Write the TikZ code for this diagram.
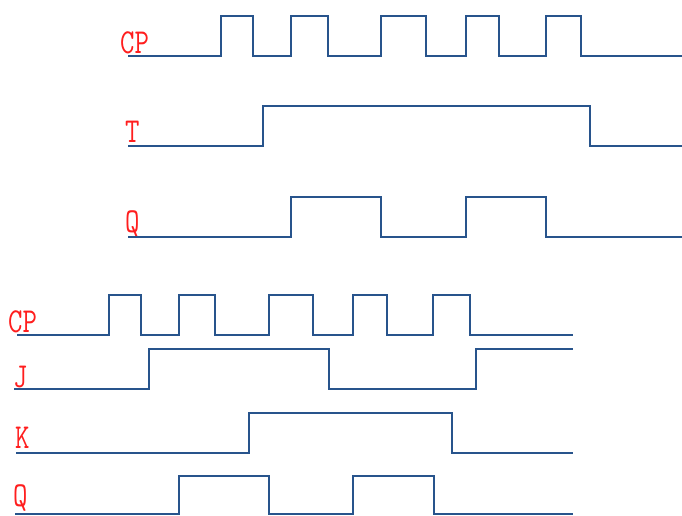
\documentclass[tikz,border=0pt]{standalone}
\usepackage{fontspec}
\usetikzlibrary{positioning}
\definecolor{wavecol}{RGB}{40,84,140}
\definecolor{sigred}{RGB}{255,30,30}
\tikzset{
    wave/.style = {draw=wavecol, line width=2.2pt, line join=miter},
    siglabel/.style = {anchor=base west, inner sep=0pt, text=sigred,
        font=\ttfamily\fontsize{28}{28}\selectfont}
}
\newcommand{\sig}[1]{\scalebox{1}[1.25]{#1}}

\begin{document}
\begin{tikzpicture}[x=1pt, y=-1pt]
    \useasboundingbox (0,0) rectangle (682,515);
    % T flip-flop
    \node[siglabel] (cpT) at (120,53) {\sig{CP}};
    \node[siglabel] (tT) at (125,142) {\sig{T}};
    \node[siglabel] (qT) at (125,232) {\sig{Q}};
    \draw[wave] (128,56)
        foreach \a/\b in {221/253, 291/328, 381/426, 466/499, 546/581}
            { -- (\a,56) -- (\a,16) -- (\b,16) -- (\b,56) } -- (682,56);
    \draw[wave] (128,146) -- (263,146) -- (263,106) -- (590,106) -- (590,146) -- (682,146);
    \draw[wave] (128,237)
        foreach \a/\b in {291/381, 466/546}
            { -- (\a,237) -- (\a,197) -- (\b,197) -- (\b,237) } -- (682,237);
    % JK flip-flop
    \node[siglabel] (cpJK) at (8,332) {\sig{CP}};
    \node[siglabel] (jJK) at (13,387) {\sig{J}};
    \node[siglabel] (kJK) at (15,448) {\sig{K}};
    \node[siglabel] (qJK) at (13,506) {\sig{Q}};
    \draw[wave] (17,335)
        foreach \a/\b in {109/141, 179/215, 269/313, 353/387, 433/470}
            { -- (\a,335) -- (\a,295) -- (\b,295) -- (\b,335) } -- (573,335);
    \draw[wave] (14,389) -- (149,389) -- (149,349) -- (329,349) -- (329,389)
        -- (476,389) -- (476,349) -- (573,349);
    \draw[wave] (16,453) -- (249,453) -- (249,413) -- (452,413) -- (452,453) -- (573,453);
    \draw[wave] (15,514)
        foreach \a/\b in {179/269, 353/434}
            { -- (\a,514) -- (\a,476) -- (\b,476) -- (\b,514) } -- (573,514);
\end{tikzpicture}
\end{document}
